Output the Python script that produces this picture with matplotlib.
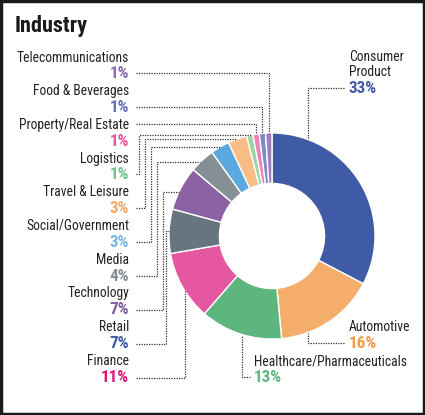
import numpy as np
import matplotlib
matplotlib.use("Agg")
import matplotlib.pyplot as plt
from matplotlib.patches import Rectangle

# ---- data ----
categories = ["Consumer\nProduct", "Automotive", "Healthcare/Pharmaceuticals", "Finance",
              "Retail", "Technology", "Media", "Social/Government", "Travel & Leisure",
              "Logistics", "Property/Real Estate", "Food & Beverages", "Telecommunications"]
values = [33, 16, 13, 11, 7, 7, 4, 3, 3, 1, 1, 1, 1]
pct_labels = ["33%", "16%", "13%", "11%", "7%", "7%", "4%", "3%", "3%", "1%", "1%", "1%", "1%"]
wedge_colors = ["#3F5BA5", "#F5AD6B", "#5DB67D", "#E557A0", "#67757F", "#8B62A3",
                "#858F94", "#5BA8DE", "#F7BD85", "#9ED3A8", "#EE82B8", "#7D8BC8", "#A07FB8"]
label_colors = ["#3F5BA5", "#F39A4A", "#5DB67D", "#E0157E", "#3F5BA5", "#7E5A9E",
                "#858F94", "#79B5E3", "#F5A765", "#6CC38B", "#E8569E", "#5E72BB", "#8E6BAE"]

W, H = 425, 415
FAM = ["Roboto Condensed", "DejaVu Sans"]
plt.rcParams['font.family'] = FAM

fig = plt.figure(figsize=(W / 100, H / 100), dpi=100)
ax = fig.add_axes([0, 0, 1, 1])

def Y(py):
    return H - py

CX, CY, R = 272, 236, 103
ax.pie(values, colors=wedge_colors, startangle=90, counterclock=False,
       center=(CX, Y(CY)), radius=R,
       wedgeprops=dict(width=R * 0.49, edgecolor="white", linewidth=1.0))
ax.set_xlim(0, W)
ax.set_ylim(0, H)
ax.set_aspect("equal")
ax.axis("off")

lstyle = dict(color="#333333", lw=0.9, linestyle=(0, (1, 1)))

def circ_y_top(x):
    return CY - np.sqrt(R ** 2 - (x - CX) ** 2)

def circ_y_bot(x):
    return CY + np.sqrt(R ** 2 - (x - CX) ** 2)

def circ_x_left(y):
    return CX - np.sqrt(R ** 2 - (y - CY) ** 2)

def line(pts):
    xs = [p[0] for p in pts]
    ys = [Y(p[1]) for p in pts]
    ax.plot(xs, ys, **lstyle)

NAME_FS = 9.8
PCT_FS = 12.3

# title
ax.text(15, Y(32), "Industry", fontsize=16, fontweight="bold", color="#1a1a1a",
        ha="left", va="baseline")

# left-side labels (ordered top to bottom)
left_idx = [12, 11, 10, 9, 8, 7, 6, 5, 4, 3]
XR = 129
for k, i in enumerate(left_idx):
    by = 61.5 + 33.7 * k
    ax.text(XR, Y(by), categories[i], fontsize=NAME_FS, color="#222222",
            ha="right", va="baseline")
    ax.text(XR, Y(by + 16.8), pct_labels[i], fontsize=PCT_FS, fontweight="bold",
            color=label_colors[i], ha="right", va="baseline")

X0 = 136
# Telecom, Food, Property: straight across then down
line([(X0, 73), (269, 73), (269, circ_y_top(269))])
line([(X0, 107), (262, 107), (262, circ_y_top(262))])
line([(X0, 124), (256, 124), (256, circ_y_top(256))])
# Logistics, Travel, Social, Media, Technology: up then across
for ly, vx, hy in [(174, 139, 135), (208, 145, 139), (242, 151, 147),
                   (276, 157, 162), (310, 163, 192)]:
    line([(X0, ly), (vx, ly), (vx, hy), (circ_x_left(hy), hy)])
# Retail
line([(X0, 344), (166, 344), (166, 231), (circ_x_left(231), 231)])
# Finance
line([(X0, 378), (185, 378), (185, circ_y_bot(185))])

# right-side labels
ax.text(349, Y(61), "Consumer", fontsize=NAME_FS, color="#222222", ha="left", va="baseline")
ax.text(349, Y(75.5), "Product", fontsize=NAME_FS, color="#222222", ha="left", va="baseline")
ax.text(349, Y(93), pct_labels[0], fontsize=PCT_FS, fontweight="bold",
        color=label_colors[0], ha="left", va="baseline")
line([(344, 88), (308, 88), (308, circ_y_top(308))])

ax.text(349, Y(331), categories[1], fontsize=NAME_FS, color="#222222", ha="left", va="baseline")
ax.text(349, Y(348), pct_labels[1], fontsize=PCT_FS, fontweight="bold",
        color=label_colors[1], ha="left", va="baseline")
line([(344, 343), (308, 343), (308, circ_y_bot(308))])

ax.text(254, Y(365), categories[2], fontsize=NAME_FS, color="#222222", ha="left", va="baseline")
ax.text(254, Y(382), pct_labels[2], fontsize=PCT_FS, fontweight="bold",
        color=label_colors[2], ha="left", va="baseline")
line([(250, 377), (242, 377), (242, circ_y_bot(242))])

# border
fig.patches.append(Rectangle((0.002, 0.002), 0.996, 0.996, transform=fig.transFigure,
                             fill=False, edgecolor="#1a1a1a", linewidth=2.5))

fig.savefig("out.png", dpi=100)
